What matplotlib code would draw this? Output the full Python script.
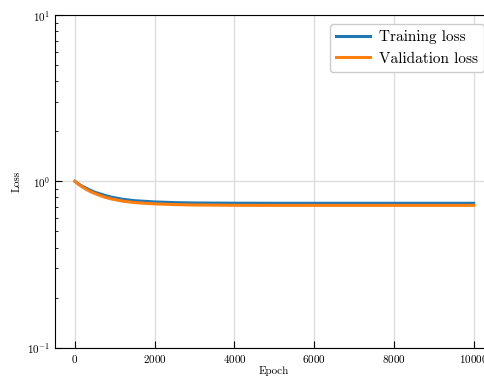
import matplotlib
matplotlib.use('Agg')
import matplotlib.pyplot as plt

plt.rcParams['font.family'] = 'serif'
plt.rcParams['font.serif'] = ['cmr10', 'DejaVu Serif']
plt.rcParams['mathtext.fontset'] = 'cm'
plt.rcParams['axes.formatter.use_mathtext'] = True

# values
epochs = [0, 100, 200, 300, 400, 500, 700, 900, 1200, 1500, 2000, 2500, 3000, 4000, 5000, 6000, 7000, 8000, 9000, 10000]
train_loss = [1.0, 0.96, 0.93, 0.905, 0.88, 0.86, 0.83, 0.805, 0.78, 0.765, 0.752, 0.745, 0.741, 0.739, 0.738, 0.738, 0.738, 0.738, 0.738, 0.738]
val_loss = [1.0, 0.955, 0.92, 0.89, 0.865, 0.845, 0.81, 0.785, 0.76, 0.745, 0.732, 0.725, 0.721, 0.718, 0.717, 0.717, 0.717, 0.717, 0.717, 0.717]

fig = plt.figure(figsize=(4.85, 3.79), dpi=100)
ax = fig.add_axes([55/485, 1 - 347.7/379, 438.5/485, 332.7/379])

ax.plot(epochs, train_loss, color='#1f77b4', lw=2.2, label='Training loss')
ax.plot(epochs, val_loss, color='#ff7f0e', lw=2.2, label='Validation loss')

ax.set_yscale('log')
ax.set_ylim(0.1, 10)
ax.set_xlim(-500, 10500)
ax.set_xticks([0, 2000, 4000, 6000, 8000, 10000])
ax.grid(True, which='major', color='#dddddd', lw=1)
ax.tick_params(which='both', direction='in', labelsize=8)
ax.tick_params(which='major', length=5)
ax.tick_params(which='minor', length=2.5)
ax.set_xlabel('Epoch', fontsize=8, labelpad=1)
ax.set_ylabel('Loss', fontsize=8)
ax.legend(loc='upper right', fontsize=11, handlelength=2.2, handletextpad=0.6,
          borderaxespad=0.6, framealpha=1, edgecolor='#cccccc')

fig.savefig('out.png', dpi=100)
